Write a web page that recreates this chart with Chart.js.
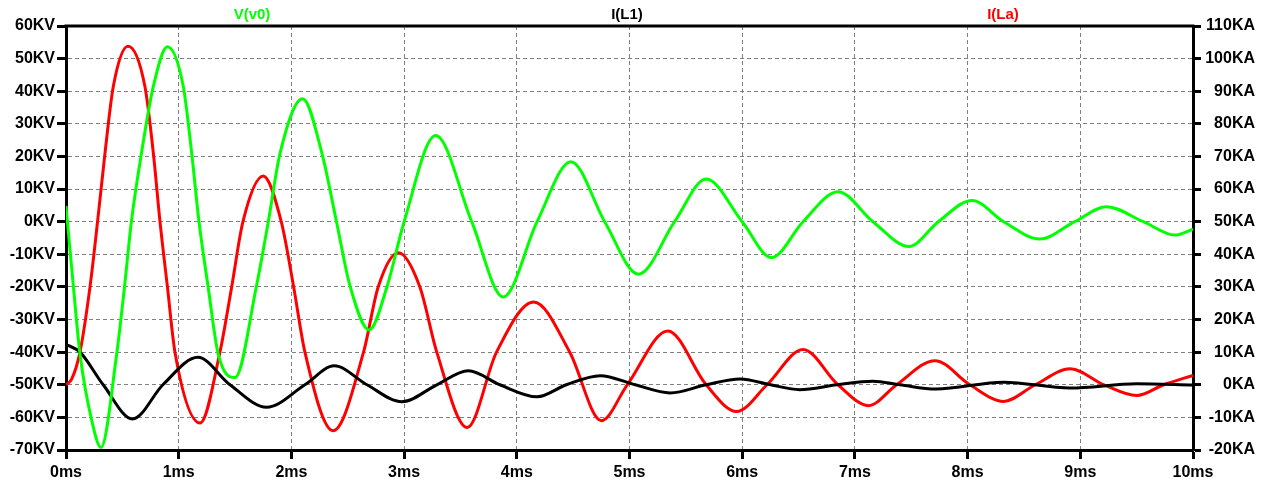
<!DOCTYPE html>
<html>
<head>
<meta charset="utf-8">
<script src="https://cdn.jsdelivr.net/npm/chart.js@4.4.1/dist/chart.umd.min.js"></script>
<style>
  html, body { margin: 0; padding: 0; background: #fff; }
  #wrap { width: 1265px; height: 483px; }
</style>
</head>
<body>
<div id="wrap"><canvas id="chart" width="1265" height="483"></canvas></div>
<script>
// V(v0) en KV (eje izquierdo)
const vTime = [0, 0.065, 0.124, 0.228, 0.31, 0.45, 0.52, 0.58, 0.67, 0.775, 0.90, 1.04, 1.115, 1.18, 1.26, 1.35, 1.50, 1.69, 1.795, 1.90, 2.10, 2.27, 2.40, 2.52, 2.69, 2.85, 3.00, 3.28, 3.60, 3.88, 4.18, 4.48, 4.78, 5.08, 5.40, 5.68, 6.00, 6.26, 6.54, 6.85, 7.16, 7.48, 7.74, 8.04, 8.32, 8.64, 8.95, 9.23, 9.56, 9.84, 10.0];
const vV0 = [4.8, -19.7, -40.5, -60.9, -69.2, -40.5, -19.7, 0, 21.1, 41.5, 53.6, 41.5, 21.1, 0, -19.7, -40.5, -47.8, -19.7, 0, 21.1, 37.7, 21.1, 0, -19.7, -33.2, -19.7, 0, 26.4, 0, -23.1, 0, 18.4, 0, -16.1, 0, 13.1, 0, -11.0, 0, 9.2, 0, -7.6, 0, 6.5, 0, -5.3, 0, 4.6, 0, -4.1, -2.3];

// I(L1) en KA (eje derecho)
const l1Time = [0, 0.124, 0.33, 0.59, 0.86, 1.17, 1.455, 1.78, 2.12, 2.38, 2.67, 2.98, 3.29, 3.57, 3.85, 4.18, 4.44, 4.74, 5.05, 5.36, 5.68, 5.98, 6.25, 6.51, 6.84, 7.16, 7.40, 7.72, 8.32, 8.91, 9.50, 10.0];
const iL1 = [12.4, 10, 0, -10.5, 0, 8.4, 0, -6.9, 0, 5.8, 0, -5.2, 0, 4.3, 0, -3.7, 0, 2.8, 0, -2.5, 0, 1.8, 0, -1.5, 0, 1.1, 0, -1.3, 0.8, -1.0, 0.3, -0.1];

// I(La) en KA (eje derecho)
const laTime = [0, 0.05, 0.124, 0.213, 0.28, 0.346, 0.42, 0.55, 0.70, 0.775, 0.834, 0.90, 0.967, 1.19, 1.366, 1.47, 1.57, 1.75, 1.91, 2.02, 2.12, 2.37, 2.64, 2.77, 2.95, 3.14, 3.29, 3.56, 3.82, 4.15, 4.47, 4.75, 4.98, 5.34, 5.68, 5.95, 6.22, 6.54, 6.85, 7.12, 7.37, 7.71, 8.02, 8.32, 8.60, 8.91, 9.21, 9.50, 9.74, 10.0];
const iLa = [0, 1.7, 10, 30, 50, 71, 91.5, 103.8, 91.5, 71, 50, 30, 10, -11.7, 10, 30, 50, 64, 50, 30, 10, -14.1, 10, 30, 40.5, 30, 10, -13.1, 10, 25.4, 10, -11, 0, 16.5, 0, -8.2, 0, 10.8, 0, -6.4, 0, 7.4, 0, -5.1, 0, 4.9, 0, -3.3, 0, 2.9];

const traceNames = ['V(v0)', 'I(L1)', 'I(La)'];
const traceColors = ['#00ff00', '#000000', '#ff0000'];

const toXY = (ts, vs) => ts.map((t, i) => ({ x: t, y: vs[i] }));

const FONT = { family: 'Liberation Sans, Arial, sans-serif', size: 16, weight: 'bold' };

// etiquetas de trazas arriba + borde superior grueso
const marcoPlugin = {
  id: 'marco',
  afterDraw(chart) {
    const { ctx, chartArea } = chart;
    ctx.save();
    ctx.strokeStyle = '#000';
    ctx.lineWidth = 3;
    ctx.beginPath();
    ctx.moveTo(chartArea.left - 1.5, chartArea.top);
    ctx.lineTo(chartArea.right + 1.5, chartArea.top);
    ctx.stroke();
    const posX = [252, 627, 1003];
    ctx.font = 'bold 15px Liberation Sans, Arial, sans-serif';
    ctx.textAlign = 'center';
    ctx.textBaseline = 'middle';
    traceNames.forEach((n, i) => {
      ctx.fillStyle = traceColors[i];
      ctx.fillText(n, posX[i], 15);
    });
    ctx.restore();
  }
};

const lineDs = (label, data, color, axis) => ({
  label, data, yAxisID: axis,
  borderColor: color, backgroundColor: color,
  borderWidth: 3, pointRadius: 0, fill: false,
  cubicInterpolationMode: 'monotone'
});

new Chart(document.getElementById('chart'), {
  type: 'line',
  data: {
    datasets: [
      lineDs(traceNames[0], toXY(vTime, vV0), traceColors[0], 'yV'),
      lineDs(traceNames[1], toXY(l1Time, iL1), traceColors[1], 'yA'),
      lineDs(traceNames[2], toXY(laTime, iLa), traceColors[2], 'yA')
    ]
  },
  options: {
    responsive: false,
    animation: false,
    devicePixelRatio: 1,
    layout: { padding: { top: 26, left: 0, right: 10, bottom: 0 } },
    plugins: { legend: { display: false }, tooltip: { enabled: false } },
    scales: {
      x: {
        type: 'linear', min: 0, max: 10,
        ticks: { stepSize: 1, color: '#000', font: FONT, padding: 4, maxRotation: 0, callback: v => v + 'ms' },
        grid: { color: '#808080', lineWidth: 1, tickColor: '#000', tickWidth: 3, tickLength: 9 },
        border: { color: '#000', width: 3, dash: [4, 3] },
        afterFit: s => { s.height = 33; }
      },
      yV: {
        type: 'linear', position: 'left', min: -70, max: 60,
        ticks: { stepSize: 10, color: '#000', font: FONT, padding: 2, callback: v => v + 'KV' },
        grid: { color: '#808080', lineWidth: 1, tickColor: '#000', tickWidth: 3, tickLength: 9 },
        border: { color: '#000', width: 3, dash: [4, 3] },
        afterFit: s => { s.width = 66; }
      },
      yA: {
        type: 'linear', position: 'right', min: -20, max: 110,
        ticks: { stepSize: 10, color: '#000', font: FONT, padding: 2, crossAlign: 'far', callback: v => v + 'KA' },
        grid: { drawOnChartArea: false, tickColor: '#000', tickWidth: 3, tickLength: 8 },
        border: { color: '#000', width: 3 },
        afterFit: s => { s.width = 62; }
      }
    }
  },
  plugins: [marcoPlugin]
});
</script>
</body>
</html>
